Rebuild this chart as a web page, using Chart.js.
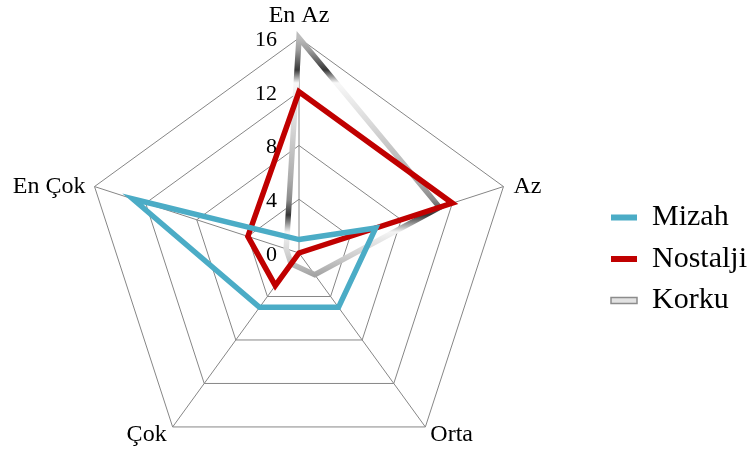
<!DOCTYPE html>
<html>
<head>
<meta charset="utf-8">
<script src="https://cdn.jsdelivr.net/npm/chart.js@4/dist/chart.umd.min.js"></script>
<style>
  html, body { margin: 0; padding: 0; background: #ffffff; }
  #wrap { width: 749px; height: 452px; position: relative; }
</style>
</head>
<body>
<div id="wrap"><canvas id="c"></canvas></div>
<script>
// Axes of the radar (clockwise from the top)
const categories = ['En Az', 'Az', 'Orta', 'Çok', 'En Çok'];

// Series values
const mizah    = [1, 6, 5, 5, 13];
const nostalji = [12, 12, 0, 3, 4];
const korku    = [16, 11, 2, 1, 1];

// Radial tick labels
const tickValues = [0, 4, 8, 12, 16];

const SERIF = "'Liberation Serif', 'Times New Roman', serif";
const LABEL_SIZE = 24;

// Plot geometry of the radial scale
const RADAR = { cx: 299, cy: 253, radius: 215 };

// Silver "metallic" stroke: light/dark bands running across the plot
function metalStroke(ctx) {
  const ch = ctx.chart;
  const s = ch.scales && ch.scales.r;
  if (!s || !s.drawingArea) return '#a6a6a6';
  const top = s.yCenter - s.drawingArea;
  const g = ch.ctx.createLinearGradient(0, top, 0, top + 1.2 * s.drawingArea);
  const stops = [
    [0.000, '#bcbcbc'], [0.047, '#9c9c9c'], [0.124, '#383838'], [0.174, '#f8f8f8'],
    [0.318, '#dcdcdc'], [0.550, '#ababab'], [0.628, '#8a8a8a'], [0.686, '#343434'],
    [0.752, '#f4f4f4'], [0.841, '#d0d0d0'], [0.938, '#9a9a9a'], [1.000, '#8c8c8c']
  ];
  stops.forEach(([o, c]) => g.addColorStop(o, c));
  return g;
}

// Place the scale and its category labels around the pentagon
function placeRadar(scale) {
  scale.xCenter = RADAR.cx;
  scale.yCenter = RADAR.cy;
  scale.drawingArea = RADAR.radius;
  const lh = LABEL_SIZE * 1.2;
  // [textAlign, dx, dy of the text middle] relative to each outer vertex
  const place = [
    ['center', 0, -22],
    ['left', 10, 0],
    ['left', 5, 8],
    ['right', -6, 8],
    ['right', -9, 0]
  ];
  scale._pointLabelItems = categories.map((lab, i) => {
    const v = scale.getPointPosition(i, scale.drawingArea);
    const [align, dx, dy] = place[i];
    const x = v.x + dx;
    const mid = v.y + dy;
    const w = LABEL_SIZE * lab.length * 0.5;
    const left = align === 'left' ? x : align === 'right' ? x - w : x - w / 2;
    return {
      visible: true, x, y: mid - lh / 2, textAlign: align,
      left, right: left + w, top: mid - lh / 2, bottom: mid + lh / 2
    };
  });
}

// Tick labels sit to the left of the vertical axis, right-aligned
const tickLabelPlugin = {
  id: 'tickLabels',
  beforeDatasetsDraw(chart) {
    const s = chart.scales.r;
    const c = chart.ctx;
    c.save();
    c.font = '22px ' + SERIF;
    c.fillStyle = '#000000';
    c.textAlign = 'right';
    c.textBaseline = 'middle';
    tickValues.forEach(v => {
      const p = s.getPointPositionForValue(0, v);
      c.fillText(String(v), p.x - 22, p.y + 2);
    });
    c.restore();
  }
};

const chart = new Chart(document.getElementById('c'), {
  type: 'radar',
  data: {
    labels: categories,
    datasets: [
      {
        label: 'Mizah',
        data: mizah,
        borderColor: '#4bacc6',
        backgroundColor: '#4bacc6',
        borderWidth: 5.5,
        fill: false,
        pointRadius: 0,
        pointHoverRadius: 0
      },
      {
        label: 'Nostalji',
        data: nostalji,
        borderColor: '#c00000',
        backgroundColor: '#c00000',
        borderWidth: 5.5,
        fill: false,
        pointRadius: 0,
        pointHoverRadius: 0
      },
      {
        label: 'Korku',
        data: korku,
        borderColor: metalStroke,
        backgroundColor: '#a6a6a6',
        borderWidth: 5.5,
        fill: false,
        pointRadius: 0,
        pointHoverRadius: 0
      }
    ]
  },
  options: {
    responsive: true,
    maintainAspectRatio: false,
    animation: false,
    layout: { padding: { left: 0, right: -8, top: 66, bottom: 0 } },
    elements: { line: { tension: 0, borderJoinStyle: 'miter' } },
    plugins: {
      tooltip: { enabled: false },
      legend: {
        position: 'right',
        align: 'center',
        labels: {
          font: { family: SERIF, size: 30 },
          color: '#000000',
          boxWidth: 26,
          boxHeight: 6,
          padding: 11.5,
          useBorderRadius: true,
          borderRadius: 3,
          generateLabels(ch) {
            const fills = ['#4bacc6', '#c00000', '#e2e2e2'];
            const strokes = ['#4bacc6', '#c00000', '#8c8c8c'];
            return ch.data.datasets.map((d, i) => ({
              text: d.label,
              fillStyle: fills[i],
              strokeStyle: strokes[i],
              lineWidth: i === 2 ? 1.5 : 0,
              fontColor: '#000000',
              hidden: false,
              datasetIndex: i
            }));
          }
        }
      }
    },
    scales: {
      r: {
        min: 0,
        max: 16,
        beginAtZero: true,
        ticks: { stepSize: 4, display: false },
        grid: { color: '#868686', lineWidth: 1 },
        angleLines: { color: '#868686', lineWidth: 1 },
        pointLabels: {
          font: { family: SERIF, size: LABEL_SIZE },
          color: '#000000',
          padding: 6
        },
        afterFit: placeRadar
      }
    }
  },
  plugins: [tickLabelPlugin]
});
</script>
</body>
</html>
